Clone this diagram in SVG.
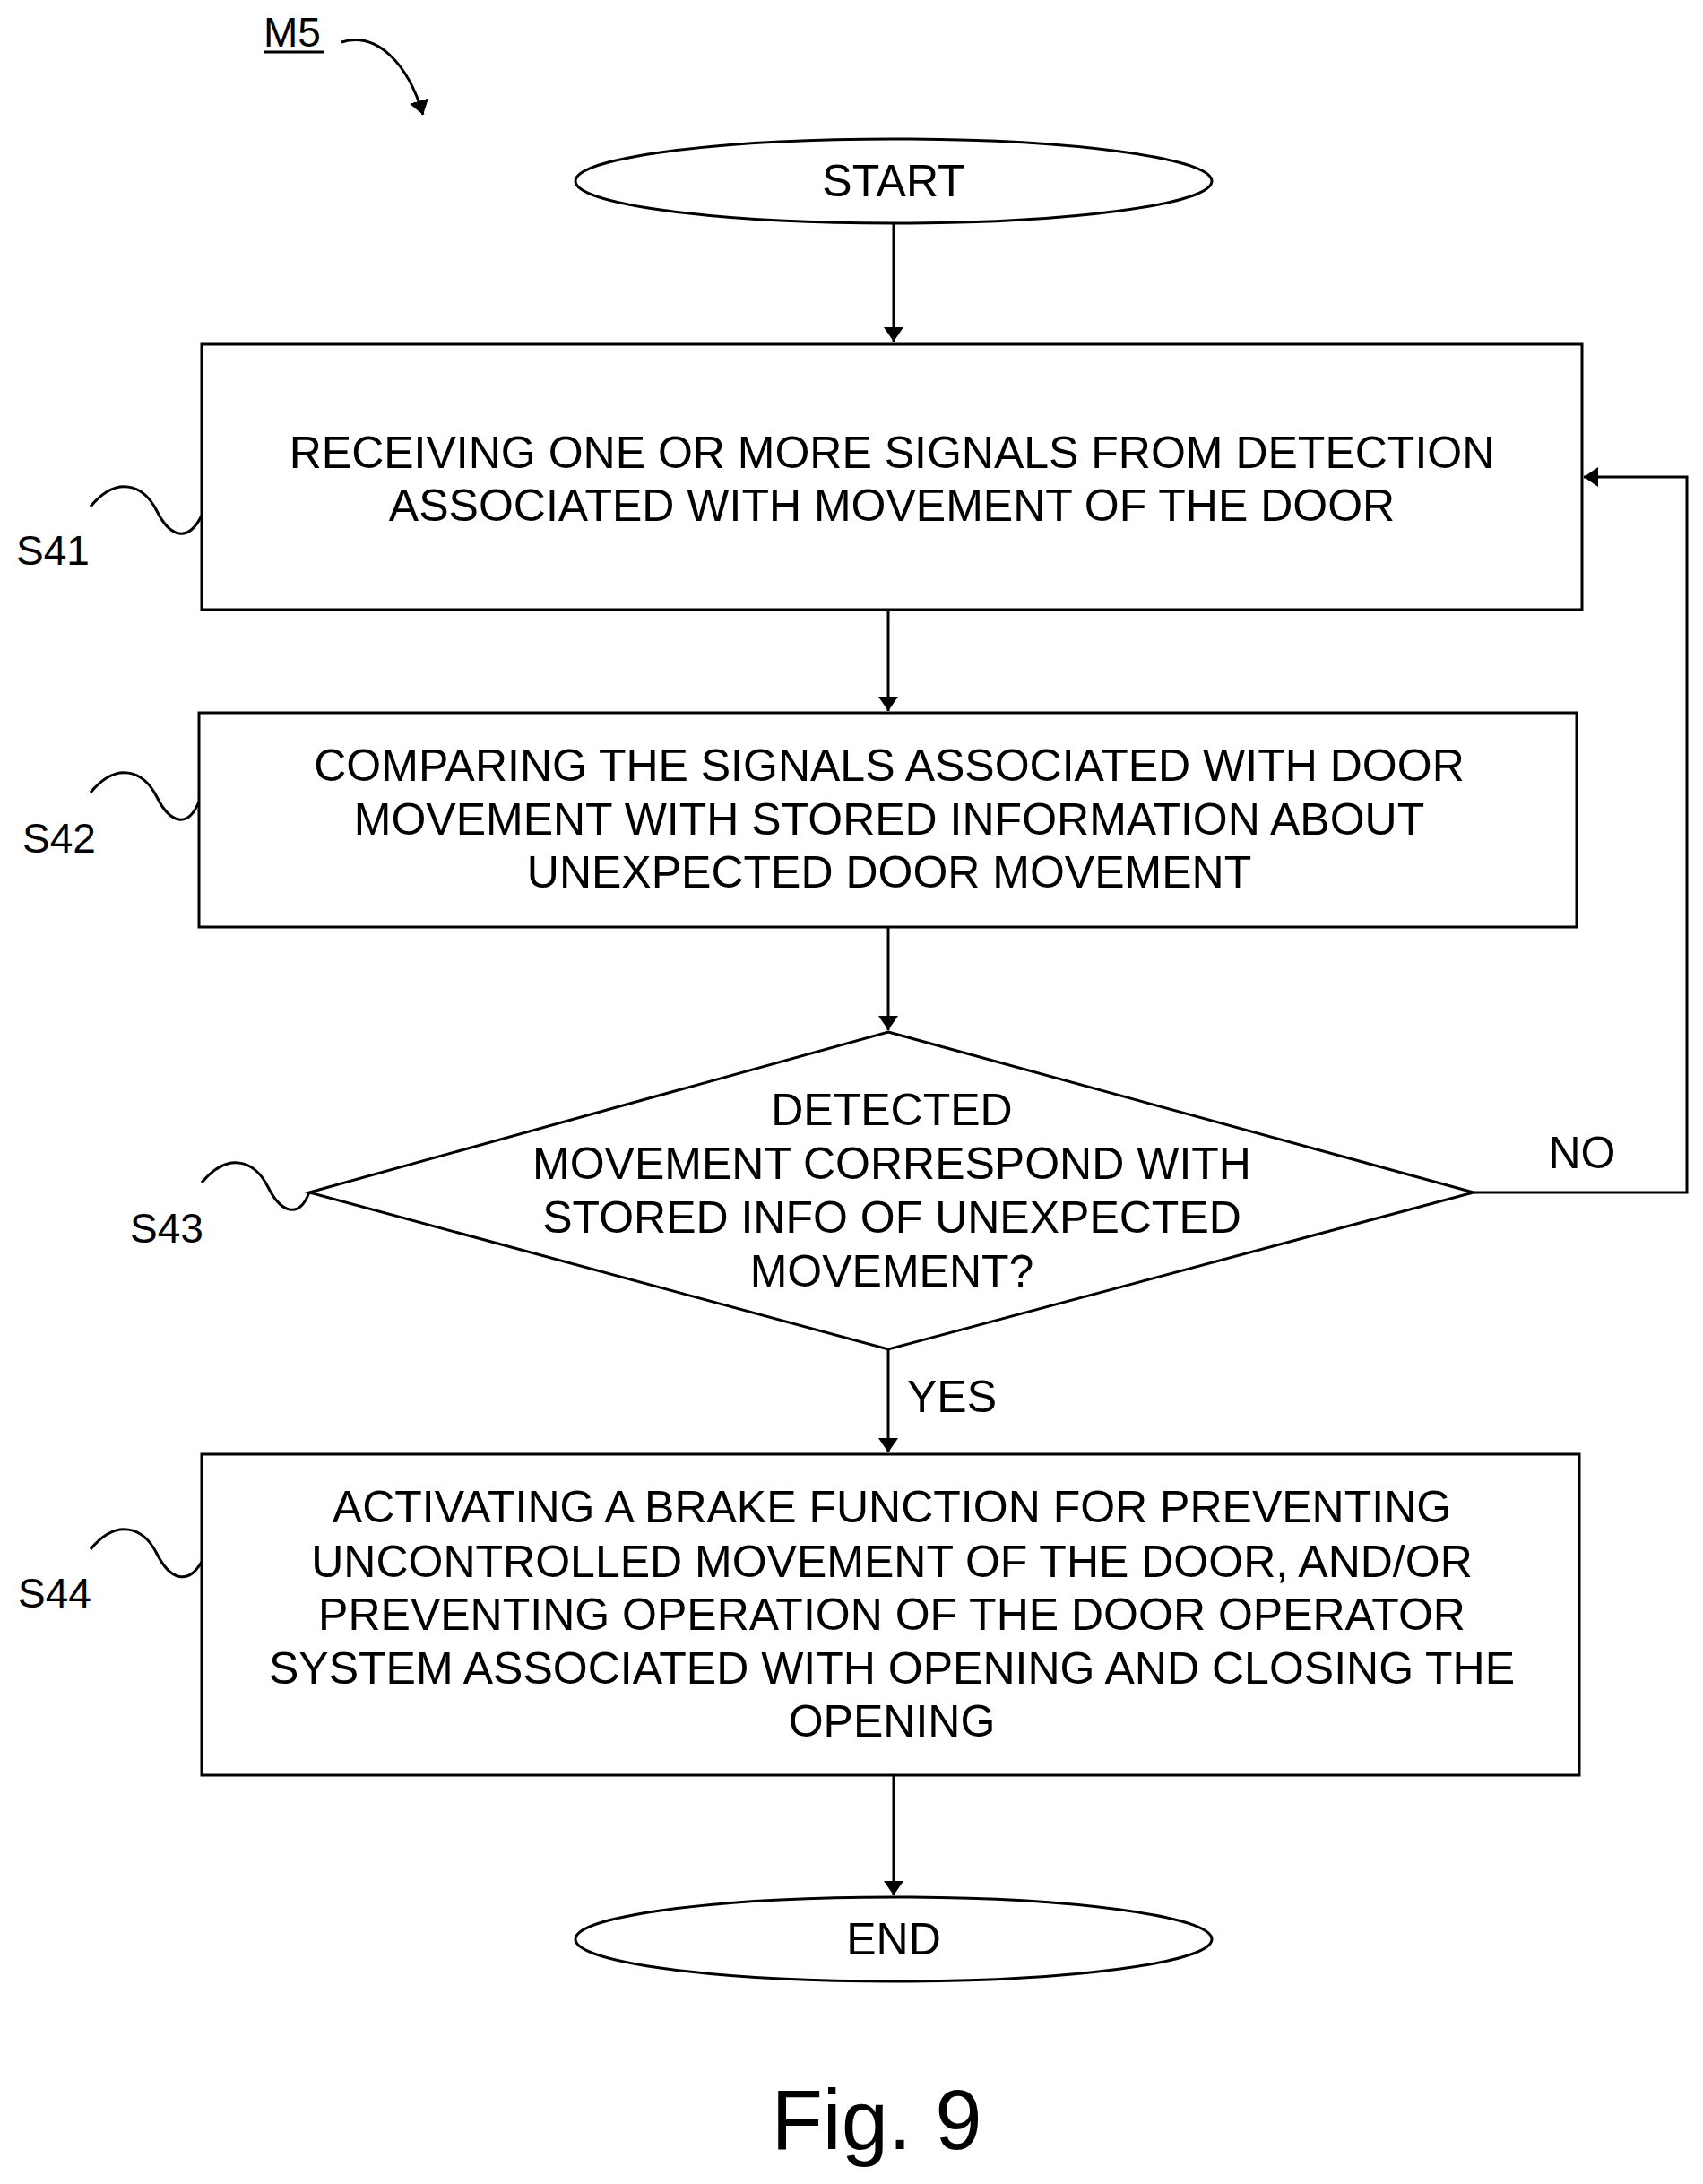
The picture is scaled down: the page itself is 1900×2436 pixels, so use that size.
<svg xmlns="http://www.w3.org/2000/svg" width="1900" height="2436" viewBox="0 0 1900 2436">
<defs>
<marker id="ah" markerWidth="16" markerHeight="22" refX="16" refY="11" orient="auto" markerUnits="userSpaceOnUse"><path d="M0,0 L16,11 L0,22 Z" fill="#000"/></marker>
<style>
.s{fill:#fff;stroke:#000;stroke-width:3}
.t{font-family:"Liberation Sans",Arial,sans-serif;font-size:50px;text-anchor:middle;dominant-baseline:central;fill:#000}
.l{font-family:"Liberation Sans",Arial,sans-serif;font-size:46px;fill:#000}
.c{fill:none;stroke:#000;stroke-width:3}
</style>
</defs>
<rect width="1900" height="2436" fill="#fff"/>
<g id="m5"><text class="l" x="294" y="52">M5</text><line x1="294" y1="58" x2="362" y2="58" stroke="#000" stroke-width="3"/><path class="c" d="M381,47 C420,35 455,70 472,128" marker-end="url(#ah)"/></g>
<g id="start"><ellipse class="s" cx="997" cy="202" rx="355" ry="47"/><text class="t" x="997" y="202">START</text></g>
<g id="s41"><rect class="s" x="225" y="384" width="1540" height="296"/><text class="t" x="995" y="505">RECEIVING ONE OR MORE SIGNALS FROM DETECTION</text><text class="t" x="995" y="564">ASSOCIATED WITH MOVEMENT OF THE DOOR</text>
<path class="c" d="M101,565 C130,530 160,540 175,570 S210,605 225,575"/><text class="l" x="18" y="630">S41</text></g>
<g id="s42"><rect class="s" x="222" y="795" width="1537" height="239"/><text class="t" x="992" y="854">COMPARING THE SIGNALS ASSOCIATED WITH DOOR</text><text class="t" x="992" y="914">MOVEMENT WITH STORED INFORMATION ABOUT</text><text class="t" x="992" y="973">UNEXPECTED DOOR MOVEMENT</text>
<path class="c" d="M101,884 C130,849 160,859 175,889 S210,924 222,894"/><text class="l" x="25" y="951">S42</text></g>
<g id="s43"><polygon class="s" points="991,1151 1644,1330 991,1505 345,1330"/><text class="t" x="995" y="1238">DETECTED</text><text class="t" x="995" y="1298">MOVEMENT CORRESPOND WITH</text><text class="t" x="995" y="1358">STORED INFO OF UNEXPECTED</text><text class="t" x="995" y="1418">MOVEMENT?</text>
<path class="c" d="M225,1319 C254,1284 284,1294 299,1324 S334,1359 345,1330"/><text class="l" x="145" y="1386">S43</text></g>
<g id="s44"><rect class="s" x="225" y="1622" width="1537" height="358"/><text class="t" x="995" y="1681">ACTIVATING A BRAKE FUNCTION FOR PREVENTING</text><text class="t" x="995" y="1742">UNCONTROLLED MOVEMENT OF THE DOOR, AND/OR</text><text class="t" x="995" y="1801">PREVENTING OPERATION OF THE DOOR OPERATOR</text><text class="t" x="995" y="1861">SYSTEM ASSOCIATED WITH OPENING AND CLOSING THE</text><text class="t" x="995" y="1920">OPENING</text>
<path class="c" d="M101,1728 C130,1693 160,1703 175,1733 S210,1768 225,1742"/><text class="l" x="20" y="1793">S44</text></g>
<g id="end"><ellipse class="s" cx="997" cy="2163" rx="355" ry="47"/><text class="t" x="997" y="2163">END</text></g>
<g id="connectors">
<line class="c" x1="997" y1="249" x2="997" y2="381" marker-end="url(#ah)"/>
<line class="c" x1="991" y1="680" x2="991" y2="793" marker-end="url(#ah)"/>
<line class="c" x1="991" y1="1034" x2="991" y2="1149" marker-end="url(#ah)"/>
<polyline class="c" points="1644,1330 1882,1330 1882,532 1767,532" marker-end="url(#ah)"/>
<text class="t" x="1765" y="1286">NO</text>
<line class="c" x1="991" y1="1505" x2="991" y2="1620" marker-end="url(#ah)"/>
<text class="t" x="1062" y="1558">YES</text>
<line class="c" x1="997" y1="1980" x2="997" y2="2114" marker-end="url(#ah)"/>
</g>
<text x="978" y="2364" font-family="Liberation Sans,Arial,sans-serif" font-size="94" text-anchor="middle" dominant-baseline="central">Fig. 9</text>
</svg>
